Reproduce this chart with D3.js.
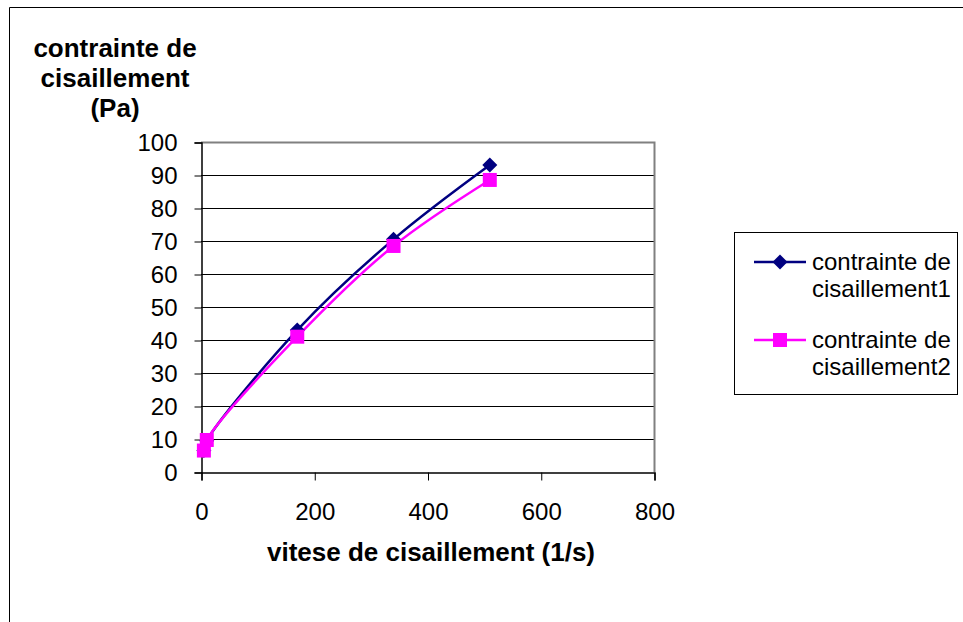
<!DOCTYPE html>
<html><head><meta charset="utf-8">
<script src="https://cdn.jsdelivr.net/npm/d3@7"></script>
<style>
html,body{margin:0;padding:0;background:#fff;}
svg{display:block;font-family:Arial,"Liberation Sans",sans-serif;}
</style></head>
<body>
<svg id="chart" width="963" height="622"></svg>
<script>
const shearRate = [5.1, 10.2, 170, 340, 510];
const stress1 = [6.5, 9.5, 43, 70.5, 93];
const stress2 = [6.5, 9.7, 41, 68.5, 88.5];
const seriesNames = ["contrainte de cisaillement1", "contrainte de cisaillement2"];
const xTicks = [0, 200, 400, 600, 800];
const yTicks = [0, 10, 20, 30, 40, 50, 60, 70, 80, 90, 100];
const yTitleLines = ["contrainte de", "cisaillement", "(Pa)"];
const xTitle = "vitese de cisaillement (1/s)";

const svg = d3.select("#chart");
const L = 201, R = 654, T = 142, B = 472;
const x = d3.scaleLinear().domain([0, 800]).range([L, R]);
const y = d3.scaleLinear().domain([0, 100]).range([B, T]);

// outer frame (partially visible)
svg.append("path").attr("d", "M9.5,622 V7.5 H963").attr("fill", "none").attr("stroke", "#000").attr("stroke-width", 1);

// gridlines
svg.append("g").selectAll("line").data(yTicks.filter(v => v > 0 && v < 100)).join("line")
  .attr("x1", L).attr("x2", R).attr("y1", d => Math.round(y(d)) + 0.5).attr("y2", d => Math.round(y(d)) + 0.5)
  .attr("stroke", "#000").attr("stroke-width", 1);

// plot area border (grey)
svg.append("path").attr("d", `M${L},${T + 0.5} H${R + 0.5} V${B}`).attr("fill", "none").attr("stroke", "#808080").attr("stroke-width", 2);

// y axis
const yAxis = d3.axisLeft(y).tickValues(yTicks).tickSize(7).tickPadding(17).tickFormat(d3.format("d"));
const gy = svg.append("g").attr("transform", `translate(${L + 0.5},0.5)`).call(yAxis);
gy.select(".domain").attr("stroke", "#000").attr("stroke-width", 1.5);
gy.selectAll(".tick line").attr("stroke", "#000");
gy.selectAll("text").attr("font-size", 24).attr("fill", "#000").attr("font-family", "Arial, 'Liberation Sans', sans-serif");

// x axis
const xAxis = d3.axisBottom(x).tickValues(xTicks).tickSize(8).tickPadding(22).tickFormat(d3.format("d"));
const gx = svg.append("g").attr("transform", `translate(0.5,${B + 0.5})`).call(xAxis);
gx.select(".domain").attr("stroke", "#000").attr("stroke-width", 1.5);
gx.selectAll(".tick line").attr("stroke", "#000");
gx.selectAll("text").attr("font-size", 24).attr("fill", "#000").attr("font-family", "Arial, 'Liberation Sans', sans-serif");

// titles
const yt = svg.append("text").attr("text-anchor", "middle").attr("font-weight", "bold").attr("font-size", 26).attr("fill", "#000");
yTitleLines.forEach((t, i) => yt.append("tspan").attr("x", 115).attr("y", 57 + i * 30).text(t));
svg.append("text").attr("x", 431).attr("y", 561).attr("text-anchor", "middle").attr("font-weight", "bold").attr("font-size", 26).attr("fill", "#000").text(xTitle);

// lines
const line = d3.line().x((d, i) => x(shearRate[i])).y(d => y(d)).curve(d3.curveCatmullRom.alpha(0.5));
const series = [
  {vals: stress1, color: "#000080", shape: "diamond"},
  {vals: stress2, color: "#FF00FF", shape: "square"}
];
series.forEach(s => {
  svg.append("path").attr("d", line(s.vals)).attr("fill", "none").attr("stroke", s.color).attr("stroke-width", 2.5);
});
function marker(g, shape, color, cx, cy) {
  if (shape === "diamond") {
    g.append("path").attr("d", `M${cx},${cy - 7.5} L${cx + 7.5},${cy} L${cx},${cy + 7.5} L${cx - 7.5},${cy} Z`).attr("fill", color);
  } else {
    g.append("rect").attr("x", cx - 7).attr("y", cy - 7).attr("width", 14).attr("height", 14).attr("fill", color);
  }
}
series.forEach(s => {
  const g = svg.append("g");
  s.vals.forEach((v, i) => marker(g, s.shape, s.color, x(shearRate[i]), y(v)));
});

// legend
svg.append("rect").attr("x", 734.5).attr("y", 232.5).attr("width", 223).attr("height", 162).attr("fill", "#fff").attr("stroke", "#000").attr("stroke-width", 1);
series.forEach((s, i) => {
  const cy = 262 + i * 78;
  const g = svg.append("g");
  g.append("line").attr("x1", 754).attr("x2", 806).attr("y1", cy).attr("y2", cy).attr("stroke", s.color).attr("stroke-width", 2.5);
  marker(g, s.shape, s.color, 780, cy);
  const words = seriesNames[i].split(" ");
  const t = g.append("text").attr("font-size", 24).attr("fill", "#000");
  t.append("tspan").attr("x", 812).attr("y", cy + 8).text(words.slice(0, 2).join(" "));
  t.append("tspan").attr("x", 812).attr("y", cy + 35).text(words[2]);
});
</script>
</body></html>
